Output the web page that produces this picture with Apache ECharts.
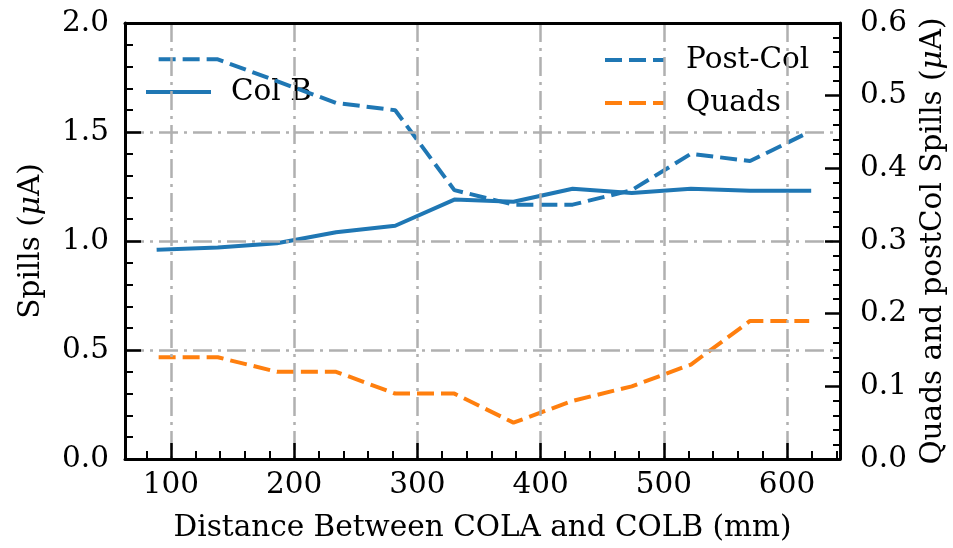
<!DOCTYPE html>
<html><head><meta charset="utf-8">
<script src="https://cdn.jsdelivr.net/npm/echarts@6/dist/echarts.min.js"></script>
<style>html,body{margin:0;padding:0;background:#fff}#c{width:953px;height:548px}</style>
</head><body><div id="c"></div>
<script>
// ---- data ----
const distance = [90, 138, 186, 234, 282, 330, 378, 426, 474, 522, 570, 618];
const colB    = [0.96, 0.97, 0.99, 1.04, 1.07, 1.19, 1.18, 1.24, 1.22, 1.24, 1.23, 1.23];
const postCol = [0.55, 0.55, 0.52, 0.49, 0.48, 0.37, 0.35, 0.35, 0.37, 0.42, 0.41, 0.45];
const quads   = [0.14, 0.14, 0.12, 0.12, 0.09, 0.09, 0.05, 0.08, 0.10, 0.13, 0.19, 0.19];
const xTickLabels = [100, 200, 300, 400, 500, 600];
const xMinorTicks = [80, 120, 140, 160, 180, 220, 240, 260, 280, 320, 340, 360, 380,
                     420, 440, 460, 480, 520, 540, 560, 580, 620, 640];

const FONT = 'DejaVu Serif';
const FS = 29.5;
const BLUE = '#1f77b4', ORANGE = '#ff7f0e', GRID = '#b0b0b0';
const DASH = [17, 7];
const DASHDOT = [19, 6, 3, 6];
const XMIN = 62.7, XMAX = 643;

const pairs = ys => distance.map((x, i) => [x, ys[i]]);
const txt = {fontFamily: FONT, fontSize: FS, color: '#000'};

const chart = echarts.init(document.getElementById('c'), null, {renderer: 'canvas'});
chart.setOption({
  animation: false,
  backgroundColor: '#fff',
  grid: {left: 125, right: 113, top: 23, bottom: 89, containLabel: false, outerBoundsMode: 'none'},
  legend: [
    {
      data: ['Col B'], left: 146, top: 75, orient: 'vertical', z: 1,
      itemWidth: 61, itemHeight: 14, padding: 0, selectedMode: false,
      textStyle: Object.assign({}, txt, {lineHeight: 34, padding: [0, 0, 0, 17]}),
      itemStyle: {opacity: 0}, lineStyle: {width: 4}
    },
    {
      data: ['Post-Col', 'Quads'], left: 603, top: 43, orient: 'vertical', z: 1,
      itemWidth: 59, itemHeight: 14, itemGap: 9, padding: 0, selectedMode: false,
      textStyle: Object.assign({}, txt, {lineHeight: 34, padding: [0, 0, 0, 17]}),
      itemStyle: {opacity: 0}, lineStyle: {width: 4}
    }
  ],
  xAxis: [
    {
      type: 'value', min: XMIN, max: XMAX, splitNumber: 5, position: 'bottom', z: 5,
      name: 'Distance Between COLA and COLB (mm)', nameLocation: 'middle', nameGap: 54,
      nameTextStyle: txt,
      axisLine: {show: true, onZero: false, lineStyle: {color: '#000', width: 3}},
      axisTick: {show: true, inside: true, length: 16, customValues: xTickLabels, lineStyle: {color: '#000', width: 2.5}},
      axisLabel: Object.assign({}, txt, {customValues: xTickLabels, margin: 11}),
      splitLine: {show: true, lineStyle: {color: GRID, width: 2.5, type: DASHDOT}}
    },
    {
      type: 'value', min: XMIN, max: XMAX, position: 'bottom', offset: 0,
      axisLine: {show: false},
      axisTick: {show: true, inside: true, length: 8, customValues: xMinorTicks, lineStyle: {color: '#000', width: 2}},
      axisLabel: {show: false}, splitLine: {show: false}
    },
    {
      type: 'value', min: XMIN, max: XMAX, position: 'top', offset: 0, z: 6,
      axisLine: {show: true, onZero: false, lineStyle: {color: '#000', width: 3}},
      axisTick: {show: false}, axisLabel: {show: false}, splitLine: {show: false}
    }
  ],
  yAxis: [
    {
      type: 'value', min: 0, max: 2, interval: 0.5, position: 'left', z: 5,
      name: 'Spills ({i|μ}A)', nameLocation: 'middle', nameGap: 79, nameRotate: 90,
      nameTextStyle: Object.assign({}, txt, {rich: {i: {fontStyle: 'italic', fontFamily: FONT, fontSize: FS}}}),
      axisLine: {show: true, onZero: false, lineStyle: {color: '#000', width: 3}},
      axisTick: {show: true, inside: true, length: 16, lineStyle: {color: '#000', width: 2.5}},
      minorTick: {show: true, splitNumber: 5, length: 8, lineStyle: {color: '#000', width: 2}},
      axisLabel: Object.assign({}, txt, {margin: 16, formatter: v => v.toFixed(1)}),
      splitLine: {show: true, showMinLine: false, showMaxLine: false, lineStyle: {color: GRID, width: 2.5, type: DASHDOT}}
    },
    {
      type: 'value', min: 0, max: 0.6, interval: 0.1, position: 'right', z: 5,
      name: 'Quads and postCol Spills ({i|μ}A)', nameLocation: 'middle', nameGap: 78, nameRotate: 90,
      nameTextStyle: Object.assign({}, txt, {rich: {i: {fontStyle: 'italic', fontFamily: FONT, fontSize: FS}}}),
      axisLine: {show: true, onZero: false, lineStyle: {color: '#000', width: 3}},
      axisTick: {show: true, inside: true, length: 15, lineStyle: {color: '#000', width: 2.5}},
      minorTick: {show: true, splitNumber: 5, length: 7, lineStyle: {color: '#000', width: 2}},
      axisLabel: Object.assign({}, txt, {margin: 20, formatter: v => v.toFixed(1)}),
      splitLine: {show: false}
    }
  ],
  series: [
    {
      name: 'Col B', type: 'line', xAxisIndex: 0, yAxisIndex: 0, data: pairs(colB),
      symbol: 'none', color: BLUE,
      lineStyle: {color: BLUE, width: 4, cap: 'square', join: 'round'}
    },
    {
      name: 'Post-Col', type: 'line', xAxisIndex: 0, yAxisIndex: 1, data: pairs(postCol),
      symbol: 'none', color: BLUE,
      lineStyle: {color: BLUE, width: 4, type: DASH, cap: 'butt'}
    },
    {
      name: 'Quads', type: 'line', xAxisIndex: 0, yAxisIndex: 1, data: pairs(quads),
      symbol: 'none', color: ORANGE,
      lineStyle: {color: ORANGE, width: 4, type: DASH, cap: 'butt'}
    }
  ]
});
</script>
</body></html>
